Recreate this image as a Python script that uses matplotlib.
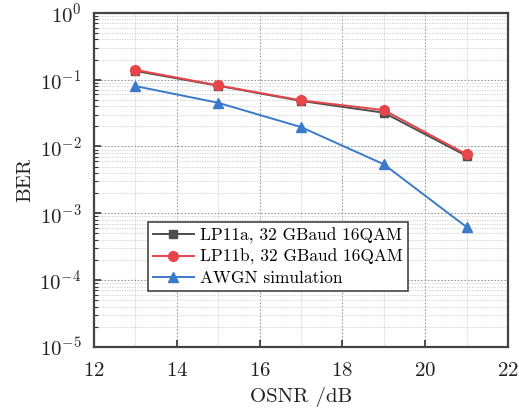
import matplotlib
matplotlib.use("Agg")
import matplotlib.pyplot as plt
from matplotlib.ticker import LogLocator, MultipleLocator, NullFormatter

osnr = [13, 15, 17, 19, 21]
ber_lp11a = [0.135, 0.081, 0.048, 0.032, 0.0072]
ber_lp11b = [0.14, 0.082, 0.049, 0.035, 0.0076]
ber_awgn = [0.080, 0.045, 0.0195, 0.0054, 0.00062]
labels = ["LP11a, 32 GBaud 16QAM", "LP11b, 32 GBaud 16QAM", "AWGN simulation"]

plt.rcParams['font.family'] = ['cmr10', 'DejaVu Serif']
plt.rcParams['mathtext.fontset'] = 'cm'
plt.rcParams['axes.formatter.use_mathtext'] = True

fig = plt.figure(figsize=(5.19, 4.13), dpi=100)
ax = fig.add_axes([0.181, 0.160, 0.798, 0.809])

ax.plot(osnr, ber_lp11a, color='#4d4d4d', marker='s', markersize=6, lw=1.4, label=labels[0], zorder=3)
ax.plot(osnr, ber_lp11b, color='#e8454b', marker='o', markersize=7, lw=1.4, label=labels[1], zorder=4)
ax.plot(osnr, ber_awgn, color='#3b7acb', marker='^', markersize=7, lw=1.4, label=labels[2], zorder=3)

ax.set_yscale('log')
ax.set_xlim(12, 22)
ax.set_ylim(1e-5, 1)
ax.xaxis.set_major_locator(MultipleLocator(2))
ax.xaxis.set_minor_locator(MultipleLocator(1))
ax.yaxis.set_major_locator(LogLocator(base=10, numticks=10))
ax.yaxis.set_minor_locator(LogLocator(base=10, subs=range(2, 10), numticks=20))
ax.yaxis.set_minor_formatter(NullFormatter())

ax.grid(True, which='major', color='#999999', linestyle=(0, (1.5, 1.5)), lw=0.8)
ax.grid(True, which='minor', color='#cccccc', linestyle=(0, (1.5, 1.5)), lw=0.6)
ax.set_axisbelow(True)

ax.tick_params(which='both', direction='in', labelsize=15, colors='#333333')
ax.tick_params(axis='x', which='minor', length=0)
ax.tick_params(which='major', length=5, width=1.2)
ax.tick_params(axis='y', which='minor', length=3, width=0.8)
ax.tick_params(labelcolor='#222222')
ax.tick_params(axis='x', pad=11)
ax.tick_params(axis='y', pad=9)
for s in ax.spines.values():
    s.set_linewidth(1.6)
    s.set_color('#444444')

ax.set_xlabel('OSNR /dB', fontsize=15, color='#222222', labelpad=5)
ax.set_ylabel('BER', fontsize=15, color='#222222')

leg = ax.legend(loc='lower left', bbox_to_anchor=(0.130, 0.168), fontsize=12.5, frameon=True,
                fancybox=False, edgecolor='#444444', framealpha=1, handlelength=2.35,
                borderpad=0.3, labelspacing=0.3, handletextpad=0.35, borderaxespad=0)
leg.get_frame().set_linewidth(1.2)

fig.savefig('out.png', dpi=100)
